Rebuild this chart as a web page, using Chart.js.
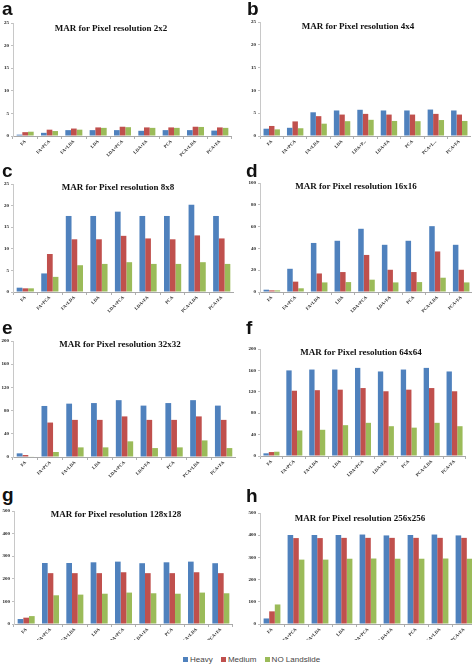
<!DOCTYPE html>
<html lang="en">
<head>
  <meta charset="UTF-8"/>
  <title>MAR for Pixel resolution</title>
  <script src="https://cdn.jsdelivr.net/npm/chart.js"></script>
  <style>
    html, body { margin: 0; padding: 0; background: #fff; width: 472px; height: 669px; overflow: hidden; }
    body { position: relative; }
    canvas { position: absolute; }
    .letter { position: absolute; font: bold 19px "Liberation Sans", Arial, sans-serif; line-height: 19px; color: #111; }
    .title { position: absolute; font: bold 9px "Liberation Serif", "Times New Roman", serif; color: #111;
      white-space: nowrap; transform: translate(-50%, -50%); }
    .legend { position: absolute; top: 655px; left: 183px; font: 8px "Liberation Sans", Arial, sans-serif; color: #444;
      white-space: nowrap; line-height: 10px; }
    .legend span.box { display: inline-block; width: 5px; height: 5px; margin-right: 2px; vertical-align: 0; }
    .legend span.item { margin-right: 6px; }
  </style>
</head>
<body>

<div id="fig"></div>
<div class="legend">
  <span class="item"><span class="box" style="background:#4F81BD"></span>Heavy</span>
  <span class="item"><span class="box" style="background:#C0504D"></span>Medium</span>
  <span class="item"><span class="box" style="background:#9BBB59"></span>NO Landslide</span>
</div>

<script>
  // categories
  const categories = ['FA', 'FA+PCA', 'FA+LDA', 'LDA', 'LDA+PCA', 'LDA+FA', 'PCA', 'PCA+LDA', 'PCA+FA'];
  const categoriesB = ['FA', 'FA+PCA', 'FA+LDA', 'LDA', 'LDA+P...', 'LDA+FA', 'PCA', 'PCA+L...', 'PCA+FA'];

  const panelLetters = ['a', 'b', 'c', 'd', 'e', 'f', 'g', 'h'];
  const titles = [
    'MAR for Pixel resolution 2x2', 'MAR for Pixel resolution 4x4',
    'MAR for Pixel resolution 8x8', 'MAR for Pixel resolution 16x16',
    'MAR for Pixel resolution 32x32', 'MAR for Pixel resolution 64x64',
    'MAR for Pixel resolution 128x128', 'MAR for Pixel resolution 256x256'
  ];
  const yMax = [25, 25, 25, 100, 200, 200, 500, 500];
  const yStep = [5, 5, 5, 20, 40, 40, 100, 100];

  // series values: Heavy / Medium / NO Landslide
  const heavy2 = [0.3, 0.7, 1.3, 1.3, 1.3, 1.15, 1.3, 1.3, 1.2];
  const medium2 = [0.85, 1.4, 1.65, 1.9, 2.05, 1.9, 1.9, 2.05, 1.9];
  const none2 = [0.95, 1.1, 1.4, 1.8, 1.95, 1.8, 1.8, 2.0, 1.8];

  const heavy4 = [1.6, 1.8, 5.2, 5.6, 5.75, 5.6, 5.6, 5.8, 5.6];
  const medium4 = [2.2, 3.2, 4.35, 4.7, 4.85, 4.7, 4.7, 4.85, 4.7];
  const none4 = [1.45, 1.7, 2.7, 3.25, 3.55, 3.3, 3.25, 3.5, 3.3];

  const heavy8 = [1.0, 4.3, 17.6, 17.6, 18.6, 17.6, 17.6, 20.2, 17.6];
  const medium8 = [0.85, 8.8, 12.2, 12.2, 13.0, 12.4, 12.2, 13.1, 12.4];
  const none8 = [0.85, 3.5, 6.2, 6.5, 6.9, 6.5, 6.5, 6.9, 6.5];

  const heavy16 = [2.1, 21.3, 45, 47, 58, 43.3, 47, 60.4, 43.3];
  const medium16 = [1.5, 9.5, 17, 18.3, 34, 20.4, 18.3, 37.2, 20.4];
  const none16 = [1.5, 3.4, 8.8, 9.1, 11.3, 8.8, 9.1, 13.1, 8.8];

  const heavy32 = [6.3, 88, 92, 93, 98, 88.6, 93, 98, 88.6];
  const medium32 = [3.4, 59.4, 64, 64, 70, 64, 64, 70, 64];
  const none32 = [1, 8.6, 16.6, 16.6, 27, 15.4, 16.6, 28.6, 15.4];

  const heavy64 = [5, 160, 161.6, 161.6, 164.7, 158, 161.6, 164.7, 158];
  const medium64 = [7.4, 122, 123, 124, 127, 121, 124, 127, 121];
  const none64 = [8, 47.7, 49, 57.6, 62, 55.7, 53, 62, 55.7];

  const heavy128 = [22, 270, 270, 273, 276, 269, 273, 276, 269];
  const medium128 = [28, 225, 225, 225, 229, 225, 225, 229, 225];
  const none128 = [35, 127, 130, 134, 139, 136, 134, 139, 136];

  const heavy256 = [25, 401, 401, 401, 403, 399, 401, 403, 399];
  const medium256 = [57, 387, 387, 388, 388, 388, 388, 388, 388];
  const none256 = [88, 290, 290, 294, 295, 294, 294, 295, 294];

  const series = [
    [heavy2, medium2, none2], [heavy4, medium4, none4],
    [heavy8, medium8, none8], [heavy16, medium16, none16],
    [heavy32, medium32, none32], [heavy64, medium64, none64],
    [heavy128, medium128, none128], [heavy256, medium256, none256]
  ];

  // placement of each panel (plot area in page pixels)
  const boxes = [
    { axisX: 13, right: 232, top: 22, zero: 135.5, xH: 22, letter: [2, 15], title: [111, 28] },
    { axisX: 260, right: 471, top: 21, zero: 135.7, xH: 22, letter: [247, 15], title: [358, 26] },
    { axisX: 13, right: 234, top: 183, zero: 292, xH: 22, letter: [2, 177], title: [118, 187] },
    { axisX: 260, right: 473, top: 182, zero: 292, xH: 22, letter: [246, 177], title: [356, 186] },
    { axisX: 13, right: 236, top: 340, zero: 457, xH: 22, letter: [2, 334], title: [120, 344] },
    { axisX: 260, right: 466, top: 348, zero: 456, xH: 22, letter: [246, 334], title: [361, 352] },
    { axisX: 14, right: 233, top: 510, zero: 624, xH: 16, letter: [2, 501], title: [116, 514] },
    { axisX: 260, right: 476, top: 512, zero: 624, xH: 16, letter: [246, 502], title: [360, 518] }
  ];

  const names = ['Heavy', 'Medium', 'NO Landslide'];
  const colors = ['#4F81BD', '#C0504D', '#9BBB59'];
  const yW = 13, padTop = 4;
  const fig = document.getElementById('fig');

  boxes.forEach((b, i) => {
    const cv = document.createElement('canvas');
    const left = b.axisX - yW;
    const top = b.top - padTop;
    const w = Math.round(b.right - left);
    const h = Math.round(b.zero - b.top + padTop + b.xH);
    cv.width = w; cv.height = h;
    cv.style.left = left + 'px';
    cv.style.top = top + 'px';
    cv.style.width = w + 'px';
    cv.style.height = h + 'px';
    fig.appendChild(cv);

    const lt = document.createElement('div');
    lt.className = 'letter';
    lt.textContent = panelLetters[i];
    lt.style.left = b.letter[0] + 'px';
    lt.style.top = (b.letter[1] - 16) + 'px';
    fig.appendChild(lt);

    const tt = document.createElement('div');
    tt.className = 'title';
    tt.textContent = titles[i];
    tt.style.left = b.title[0] + 'px';
    tt.style.top = b.title[1] + 'px';
    fig.appendChild(tt);

    new Chart(cv.getContext('2d'), {
      type: 'bar',
      data: {
        labels: i === 1 ? categoriesB : categories,
        datasets: series[i].map((vals, k) => ({
          label: names[k],
          data: vals,
          backgroundColor: colors[k],
          borderWidth: 0,
          barPercentage: 1.0,
          categoryPercentage: 0.7
        }))
      },
      options: {
        responsive: false,
        animation: false,
        devicePixelRatio: 1,
        layout: { padding: { top: padTop, right: 0, left: 0, bottom: 0 } },
        plugins: { legend: { display: false }, tooltip: { enabled: false } },
        scales: {
          x: {
            afterFit: s => { s.height = b.xH; },
            grid: { display: true, drawOnChartArea: false, drawTicks: true, tickLength: 3, color: '#b0b0b0' },
            border: { display: true, color: '#a8a8a8' },
            ticks: {
              autoSkip: false, minRotation: 45, maxRotation: 45, padding: 0,
              color: '#222', font: { family: 'Liberation Serif', weight: 'bold', size: 4.5 }
            }
          },
          y: {
            min: 0, max: yMax[i],
            afterFit: s => { s.width = yW; },
            grid: { display: true, drawOnChartArea: false, drawTicks: true, tickLength: 2, color: '#c0c0c0' },
            border: { display: true, color: '#c8c8c8' },
            ticks: {
              stepSize: yStep[i], padding: 2,
              color: '#222', font: { family: 'Liberation Serif', weight: 'bold', size: 5 }
            }
          }
        }
      }
    });
  });
</script>

</body>
</html>
